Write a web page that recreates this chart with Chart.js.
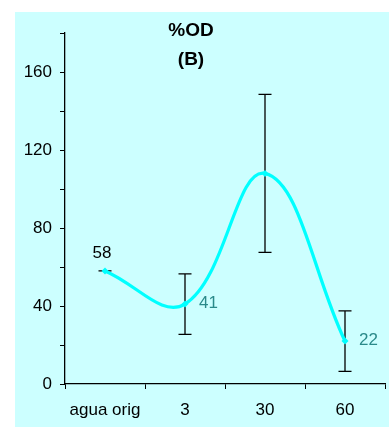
<!DOCTYPE html>
<html>
<head>
<meta charset="utf-8">
<script src="https://cdn.jsdelivr.net/npm/chart.js@4/dist/chart.umd.min.js"></script>
<style>
  html, body { margin: 0; padding: 0; background: #fff; }
  #box { position: absolute; left: 15px; top: 12px; width: 374px; height: 415px; background: #ccffff; }
</style>
</head>
<body>
<div id="box"><canvas id="myChart" width="374" height="415"></canvas></div>
<script>
'use strict';

const categories = ['agua orig', '3', '30', '60'];
const odValues = [58, 41, 108, 22];
const odErrors = [0, 15.5, 40.5, 15.5];
const pointLabels = ['58', '41', '', '22'];
const yTicksShown = [0, 40, 80, 120, 160];

const FONT = '"Liberation Sans", Arial, sans-serif';

// error bars go under the line, labels and title on top
const extras = {
  id: 'extras',
  beforeDatasetsDraw(chart) {
    const ctx = chart.ctx;
    const x = chart.scales.x;
    const y = chart.scales.y;
    ctx.save();
    ctx.strokeStyle = '#000';
    ctx.lineWidth = 1.3;
    for (let i = 0; i < odValues.length; i++) {
      const px = x.getPixelForValue(i);
      const top = y.getPixelForValue(odValues[i] + odErrors[i]);
      const bot = y.getPixelForValue(odValues[i] - odErrors[i]);
      ctx.beginPath();
      ctx.moveTo(px, top); ctx.lineTo(px, bot);
      ctx.moveTo(px - 6.5, top); ctx.lineTo(px + 6.5, top);
      ctx.moveTo(px - 6.5, bot); ctx.lineTo(px + 6.5, bot);
      ctx.stroke();
    }
    ctx.restore();
  },
  afterDatasetsDraw(chart) {
    const ctx = chart.ctx;
    const meta = chart.getDatasetMeta(0);
    ctx.save();
    ctx.font = '17px ' + FONT;
    ctx.textBaseline = 'middle';
    for (let i = 0; i < pointLabels.length; i++) {
      if (!pointLabels[i]) continue;
      const pt = meta.data[i];
      if (i === 0) {
        ctx.fillStyle = '#000';
        ctx.textAlign = 'center';
        ctx.fillText(pointLabels[i], pt.x - 3, pt.y - 18);
      } else {
        ctx.fillStyle = '#2a8a8a';
        ctx.textAlign = 'left';
        ctx.fillText(pointLabels[i], pt.x + 14, pt.y - 1);
      }
    }
    ctx.fillStyle = '#000';
    ctx.textAlign = 'center';
    ctx.font = 'bold 19px ' + FONT;
    ctx.fillText('%OD', 176, 19);
    ctx.fillText('(B)', 176, 48);
    ctx.restore();
  }
};

let ctx = document.getElementById('myChart').getContext('2d');
let chart = new Chart(ctx, {
  type: 'line',
  data: {
    labels: categories,
    datasets: [{
      data: odValues,
      borderColor: '#00ffff',
      backgroundColor: '#00ffff',
      borderWidth: 3.2,
      tension: 0.4,
      pointStyle: 'rectRot',
      pointRadius: 3.5,
      pointBorderWidth: 0
    }]
  },
  options: {
    responsive: false,
    animation: false,
    layout: { padding: { top: 21, right: 0, left: 0, bottom: 0 } },
    plugins: { legend: { display: false }, tooltip: { enabled: false } },
    scales: {
      x: {
        offset: true,
        grid: { offset: true, drawOnChartArea: false, color: '#000', tickLength: 5, tickWidth: 1 },
        border: { color: '#000', width: 1.3 },
        ticks: { color: '#000', padding: 11, maxRotation: 0, autoSkip: false,
          font: { size: 17, family: FONT } },
        afterFit(scale) { scale.height = 43; }
      },
      y: {
        min: 0, max: 180,
        grid: { drawOnChartArea: false, color: '#000', tickLength: 5, tickWidth: 1 },
        border: { color: '#000', width: 1.3 },
        ticks: {
          stepSize: 20, color: '#000', padding: 8,
          font: { size: 17, family: FONT },
          callback: v => yTicksShown.includes(v) ? String(v) : ''
        },
        afterFit(scale) { scale.width = 50; }
      }
    }
  },
  plugins: [extras]
});
</script>
</body>
</html>
